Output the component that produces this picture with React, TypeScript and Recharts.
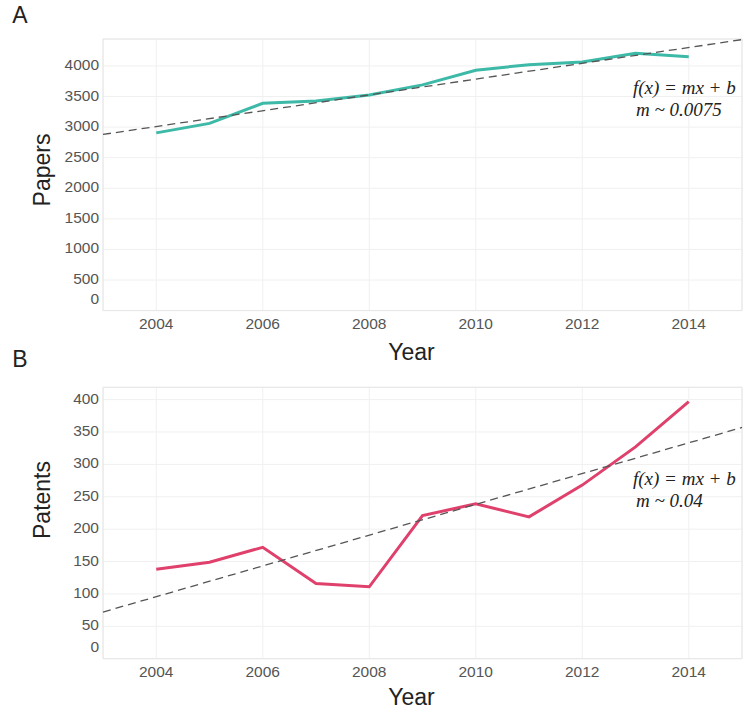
import React from 'react';
import { LineChart, Line, XAxis, YAxis, CartesianGrid, ReferenceLine, ReferenceArea } from 'recharts';

const years = [2004, 2005, 2006, 2007, 2008, 2009, 2010, 2011, 2012, 2013, 2014];
const papers = [2905, 3060, 3390, 3425, 3525, 3690, 3930, 4020, 4065, 4205, 4150];
const patents = [138, 149, 172, 116, 111, 221, 239, 219, 268, 327, 397];
const yearTicks = [2004, 2006, 2008, 2010, 2012, 2014];
const papersTicks = [0, 500, 1000, 1500, 2000, 2500, 3000, 3500, 4000];
const patentsTicks = [0, 50, 100, 150, 200, 250, 300, 350, 400];
const papersTrend = [{ year: 2003, value: 2880 }, { year: 2015, value: 4430 }];
const patentsTrend = [{ year: 2003, value: 72 }, { year: 2015, value: 357 }];
const papersAnnot = ['f(x) = mx + b', 'm ~ 0.0075'];
const patentsAnnot = ['f(x) = mx + b', 'm ~ 0.04'];

const papersData = years.map((year, i) => ({ year, value: papers[i] }));
const patentsData = years.map((year, i) => ({ year, value: patents[i] }));

const SANS = '"Liberation Sans", Arial, Helvetica, sans-serif';
const SERIF = '"Liberation Serif", "Times New Roman", serif';

const YTick = (props: any) => {
  const { x, y, payload } = props;
  const shift = payload.value === 0 ? -12 : -1.5;
  return (
    <text x={x} y={y + shift} dy="0.355em" textAnchor="end" fill="#555" fontSize={15.5} fontFamily={SANS}>
      {payload.value}
    </text>
  );
};

const XTick = (props: any) => {
  const { x, y, payload } = props;
  return (
    <text x={x} y={y} dy="0.71em" textAnchor="middle" fill="#555" fontSize={15.5} fontFamily={SANS}>
      {payload.value}
    </text>
  );
};

type PanelProps = {
  data: { year: number; value: number }[];
  trend: { year: number; value: number }[];
  ticks: number[];
  yMax: number;
  color: string;
  height: number;
  top: number;
  bottom: number;
};

const Panel = ({ data, trend, ticks, yMax, color, height, top, bottom }: PanelProps) => (
  <LineChart width={752} height={height} data={data} margin={{ top, right: 10, bottom, left: 43 }}>
    <CartesianGrid stroke="#f0f0f0" strokeWidth={1} />
    <ReferenceArea x1={2003} x2={2015} y1={0} y2={yMax} fill="none" stroke="#e6e6e6" strokeWidth={1} />
    <XAxis
      dataKey="year"
      type="number"
      domain={[2003, 2015]}
      ticks={yearTicks}
      allowDataOverflow
      axisLine={false}
      tickLine={false}
      tickSize={0}
      tickMargin={7}
      height={30}
      tick={<XTick />}
    />
    <YAxis
      type="number"
      domain={[0, yMax]}
      ticks={ticks}
      allowDataOverflow
      axisLine={false}
      tickLine={false}
      tickSize={0}
      tickMargin={4}
      width={60}
      tick={<YTick />}
    />
    <Line
      type="linear"
      dataKey="value"
      stroke={color}
      strokeWidth={3}
      dot={false}
      isAnimationActive={false}
    />
    <ReferenceLine
      segment={[{ x: trend[0].year, y: trend[0].value }, { x: trend[1].year, y: trend[1].value }]}
      stroke="#555"
      strokeWidth={1.3}
      strokeDasharray="8 5"
      ifOverflow="visible"
    />
  </LineChart>
);

const abs = (left: number, top: number, extra: React.CSSProperties = {}): React.CSSProperties => ({
  position: 'absolute',
  left,
  top,
  whiteSpace: 'nowrap',
  lineHeight: 1,
  ...extra,
});

export default function App() {
  return (
    <div style={{ position: 'absolute', left: 0, top: 0, width: 752, height: 712, background: '#fff', overflow: 'hidden' }}>
      <div style={abs(0, 0)}>
        <Panel data={papersData} trend={papersTrend} ticks={papersTicks} yMax={4440} color="#3db9a7" height={360} top={39} bottom={19.4} />
      </div>
      <div style={abs(0, 360)}>
        <Panel data={patentsData} trend={patentsTrend} ticks={patentsTicks} yMax={419} color="#e0416c" height={352} top={27.3} bottom={23.3} />
      </div>

      <div style={abs(20, 15, { transform: 'translate(-50%,-50%)', fontFamily: SANS, fontSize: 23, color: '#222' })}>A</div>
      <div style={abs(20, 359, { transform: 'translate(-50%,-50%)', fontFamily: SANS, fontSize: 23, color: '#222' })}>B</div>

      <div style={abs(42, 170, { transform: 'translate(-50%,-50%) rotate(-90deg)', fontFamily: SANS, fontSize: 23, color: '#222' })}>Papers</div>
      <div style={abs(42, 500, { transform: 'translate(-50%,-50%) rotate(-90deg)', fontFamily: SANS, fontSize: 23, color: '#222' })}>Patents</div>

      <div style={abs(411.5, 352, { transform: 'translate(-50%,-50%)', fontFamily: SANS, fontSize: 23, color: '#222' })}>Year</div>
      <div style={abs(411.5, 696.7, { transform: 'translate(-50%,-50%)', fontFamily: SANS, fontSize: 23, color: '#222' })}>Year</div>

      <div style={abs(633, 86.7, { transform: 'translateY(-50%)', fontFamily: SERIF, fontStyle: 'italic', fontSize: 19, color: '#222' })}>{papersAnnot[0]}</div>
      <div style={abs(636, 109, { transform: 'translateY(-50%)', fontFamily: SERIF, fontStyle: 'italic', fontSize: 19, color: '#222' })}>{papersAnnot[1]}</div>
      <div style={abs(633, 478, { transform: 'translateY(-50%)', fontFamily: SERIF, fontStyle: 'italic', fontSize: 19, color: '#222' })}>{patentsAnnot[0]}</div>
      <div style={abs(636, 500, { transform: 'translateY(-50%)', fontFamily: SERIF, fontStyle: 'italic', fontSize: 19, color: '#222' })}>{patentsAnnot[1]}</div>
    </div>
  );
}
